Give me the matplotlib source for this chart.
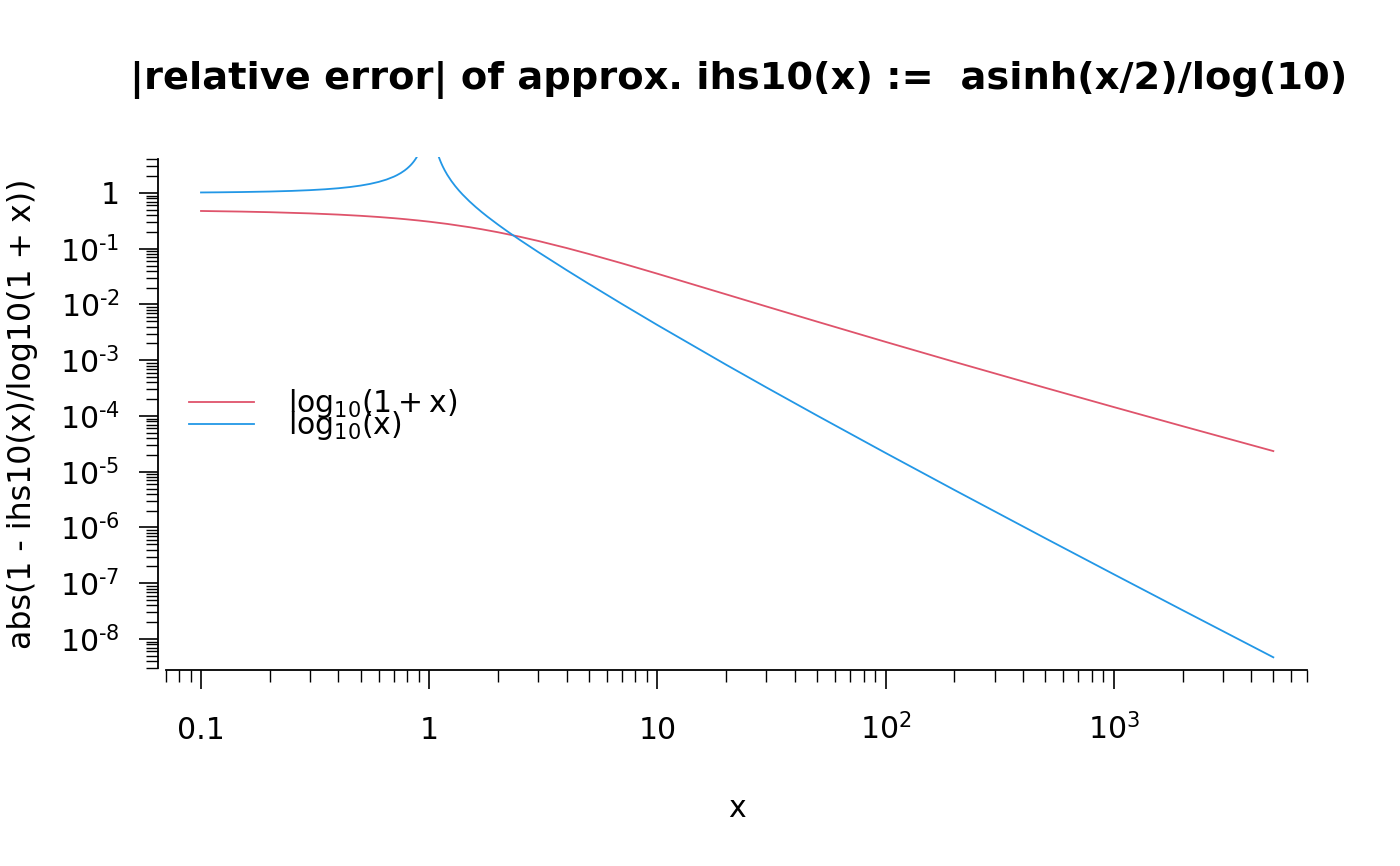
import numpy as np
import matplotlib
matplotlib.use("Agg")
import matplotlib.pyplot as plt
from matplotlib.ticker import FixedLocator, NullFormatter

# values
x_red = [0.1, 0.15, 0.2, 0.3, 0.4, 0.5, 0.6, 0.7, 0.75, 0.8, 0.9, 1.0, 1.2, 1.5, 1.7,
         2, 2.5, 3, 4, 5, 7, 10, 20, 30, 50, 100, 200, 500, 1000, 2000, 5000]
err_red = [0.4756, 0.4639, 0.4524, 0.4304, 0.4095, 0.3897, 0.3709, 0.3532, 0.3447, 0.3364,
           0.3206, 0.3058, 0.2786, 0.2435, 0.2235, 0.1977, 0.1638, 0.1382, 0.1030, 0.08066,
           0.05469, 0.03564, 0.015207, 0.009226, 0.004935, 0.002134, 9.358e-4, 3.2105e-4,
           1.4453e-4, 6.573e-5, 2.3474e-5]

# blue curve, broken at x = 1 where it runs off the top
x_blue = [0.1, 0.12, 0.15, 0.2, 0.25, 0.3, 0.35, 0.4, 0.45, 0.5, 0.55, 0.6, 0.65, 0.7, 0.72,
          0.75, 0.78, 0.8, 0.82, 0.83, 0.84, 0.85, 0.86, 0.87, 0.88, 0.89,
          1.0,
          1.1, 1.11, 1.12, 1.13, 1.14, 1.15, 1.17, 1.2, 1.25, 1.3, 1.35, 1.4, 1.5, 1.6, 1.7,
          1.8, 2, 2.2, 2.5, 3, 4, 5, 7, 10, 20, 30, 50, 100, 200, 500, 1000, 2000, 5000]
err_blue = [1.0217, 1.0283, 1.0395, 1.0620, 1.0899, 1.1241, 1.1659, 1.2168, 1.2795, 1.3570,
            1.4544, 1.5788, 1.7418, 1.9623, 2.0735, 2.2748, 2.5324, 2.7479, 3.0121, 3.1678,
            3.3431, 3.542, 3.7697, 4.0326, 4.3396, 4.703,
            np.nan,
            4.513, 4.077, 3.714, 3.4068, 3.1436, 2.9157, 2.5408, 2.1199, 1.6447, 1.3297,
            1.1062, 0.9398, 0.7095, 0.5589, 0.4534, 0.3761, 0.27156, 0.2053, 0.1433,
            0.08751, 0.04136, 0.023483, 0.010181, 0.004279, 8.314e-4, 3.2615e-4, 1.0225e-4,
            2.1715e-5, 4.7183e-6, 6.4365e-7, 1.4476e-7, 3.289e-8, 4.696e-9]

legend_labels = [r"$\mathregular{log_{10}(1 + x)}$", r"$\mathregular{log_{10}(x)}$"]

x_major = [0.1, 1, 10, 100, 1000]
x_major_labels = ["0.1", "1", "10", r"$\mathregular{10^{2}}$", r"$\mathregular{10^{3}}$"]
y_major = [1e-8, 1e-7, 1e-6, 1e-5, 1e-4, 1e-3, 1e-2, 1e-1, 1]
y_major_labels = ["$\\mathregular{10^{\u2010%d}}$" % k for k in range(8, 0, -1)] + ["1"]

RED = "#DF536B"
BLUE = "#2297E6"

plt.rcParams["mathtext.fontset"] = "dejavusans"
plt.rcParams["font.family"] = "DejaVu Sans"

fig = plt.figure(figsize=(14, 8.66), dpi=100)
ax = fig.add_axes([158 / 1400, 1 - 670 / 866, (1316 - 158) / 1400, (670 - 157) / 866])

ax.plot(x_red, err_red, color=RED, lw=1.3, label=legend_labels[0])
ax.plot(x_blue, err_blue, color=BLUE, lw=1.3, label=legend_labels[1])

ax.set_xscale("log")
ax.set_yscale("log")
ax.set_xlim(0.0648, 7690)
ax.set_ylim(2.78e-9, 4.42)

# R-style axes: no box, axis lines only over the tick range
for s in ["top", "right"]:
    ax.spines[s].set_visible(False)
ax.spines["left"].set_bounds(3e-9, 4)
ax.spines["bottom"].set_bounds(0.07, 7000)
ax.spines["left"].set_linewidth(1.3)
ax.spines["bottom"].set_linewidth(1.3)

x_minor = [m * 10.0 ** e for e in range(-2, 4) for m in range(2, 10)]
x_minor = [v for v in x_minor if 0.069 <= v <= 7001]
y_minor = [m * 10.0 ** e for e in range(-9, 1) for m in range(2, 10)]
y_minor = [v for v in y_minor if 2.9e-9 <= v <= 4.01]

ax.xaxis.set_major_locator(FixedLocator(x_major))
ax.xaxis.set_minor_locator(FixedLocator(x_minor))
ax.yaxis.set_major_locator(FixedLocator(y_major))
ax.yaxis.set_minor_locator(FixedLocator(y_minor))
ax.xaxis.set_minor_formatter(NullFormatter())
ax.yaxis.set_minor_formatter(NullFormatter())
ax.set_xticklabels(x_major_labels)
ax.set_yticklabels(y_major_labels)

ax.tick_params(which="major", length=13.7, width=1.2, labelsize=21.5)
ax.tick_params(which="minor", length=8.5, width=1.0)
ax.tick_params(axis="x", which="major", pad=36)
ax.tick_params(axis="y", which="major", pad=14)
for lab in ax.get_xticklabels():
    lab.set_va("baseline")

ax.set_xlabel("x", fontsize=21.5)
ax.set_ylabel("abs(1 - ihs10(x)/log10(1 + x))", fontsize=22.8)
ax.yaxis.set_label_coords(-0.1036, 0.5)
ax.xaxis.set_label_coords(0.5, -0.241)

fig.suptitle("|relative error| of approx. ihs10(x) :=  asinh(x/2)/log(10)",
             fontsize=27.6, fontweight="bold", x=739 / 1400, y=1 - 80 / 866, va="center")

ax.legend(loc="center left", bbox_to_anchor=(0.0268, 0.4975), frameon=False,
          fontsize=21.5, handlelength=2.17, handletextpad=1.14, labelspacing=-0.38,
          borderaxespad=0.0, borderpad=0.0)

fig.savefig("out.png", dpi=100)
